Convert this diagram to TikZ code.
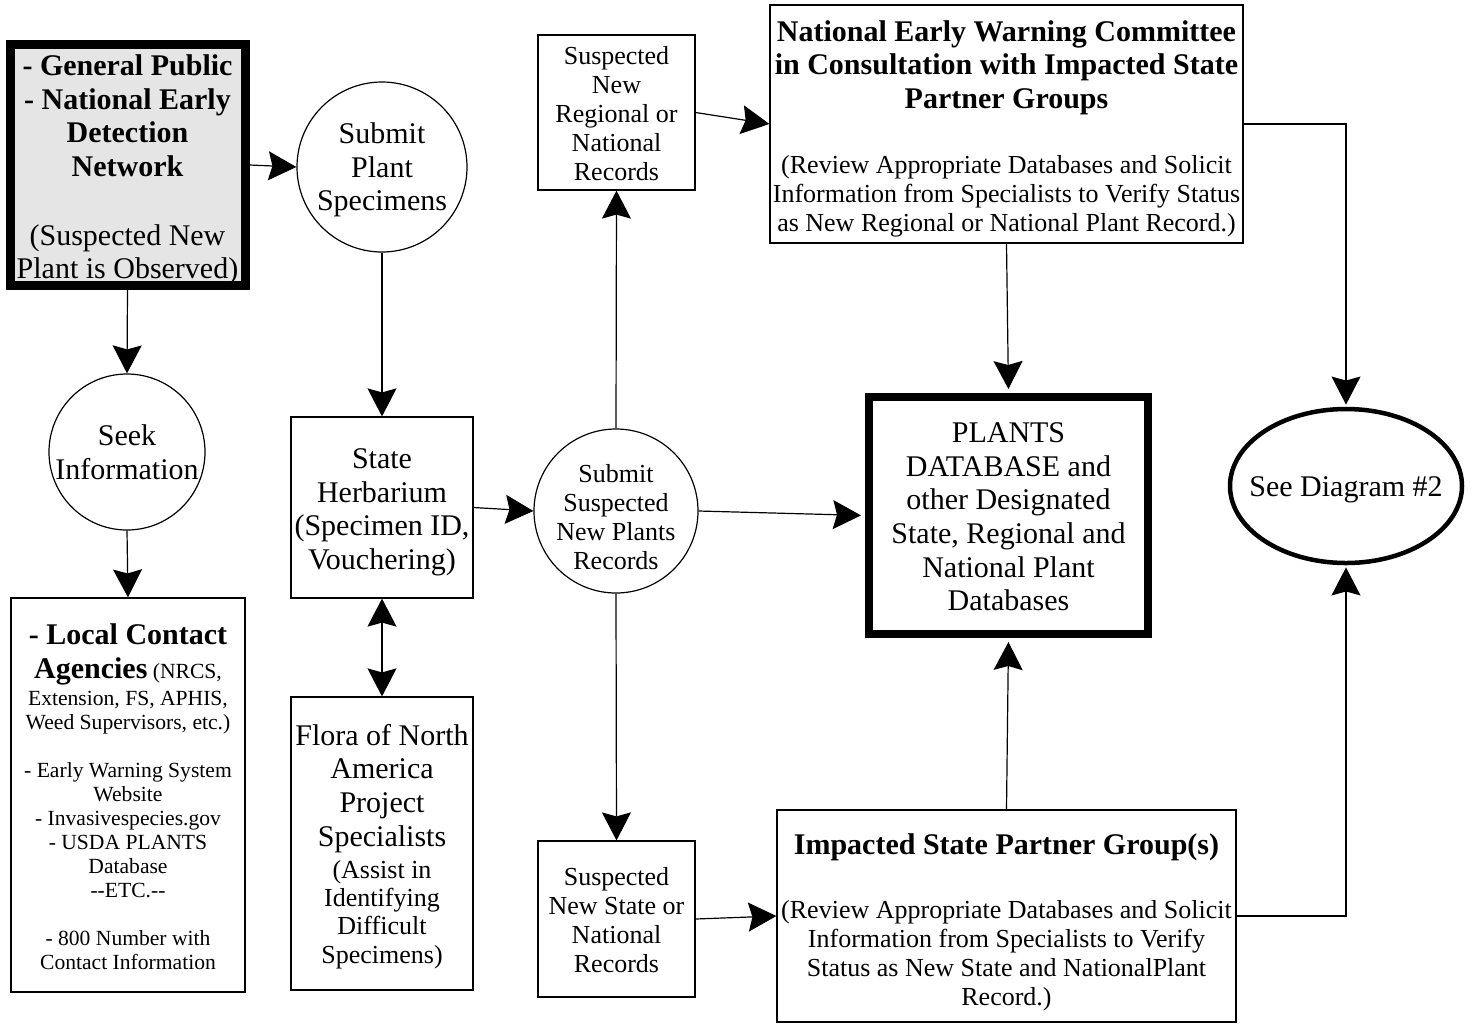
\documentclass[tikz,border=0pt]{standalone}
\usepackage{fontspec}
\setmainfont{Liberation Serif}
\usetikzlibrary{arrows.meta,shapes.geometric}
\newcommand\fsz[2]{\fontsize{#1}{#2}\selectfont}
% raises the top of a text block, moves its lines down by half the amount
\newcommand\topgap[1]{\raisebox{#1}{\vphantom{Ab}}}
\tikzset{
  >={Stealth[length=14pt,width=14.5pt,inset=2pt]},
  flowbox/.style={draw, line width=0.6pt, inner sep=0pt, align=center, font=\fsz{15}{16.8}},
  ring/.style={draw, circle, line width=0.6pt, inner sep=0pt},
  ringtext/.style={align=center, inner sep=0pt, font=\fsz{15}{16.8}},
  arr/.style={line width=0.6pt, ->},
  dblarr/.style={line width=0.6pt, <->},
}
\begin{document}
\begin{tikzpicture}[x=0.5pt,y=-0.5pt]
  \useasboundingbox (0,0) rectangle (1473,1024);
  % left column
  \node[flowbox, line width=4.5pt, fill=gray!20, minimum width=117.5pt, minimum height=118pt] (public) at (127.5,165)
    {\textbf{\topgap{5pt}- General Public}\\\textbf{- National Early}\\\textbf{Detection}\\\textbf{Network}\\[17.7pt]
     (Suspected New\\Plant is Observed)};
  \node[ring, minimum size=78pt] (seek) at (127,452) {};
  \node[ringtext] (seektxt) at (seek) {Seek\\Information};
  \node[flowbox, minimum width=117pt, minimum height=197pt, font=\fsz{10.8}{12}] (local) at (128,795)
    {{\fsz{15}{17}\bfseries\topgap{2pt}- Local Contact}\\[5pt]
     {\fsz{15}{17}\bfseries Agencies} (NRCS,\\[1.5pt]
     Extension, FS, APHIS,\\Weed Supervisors, etc.)\\[12pt]
     - Early Warning System\\Website\\- Invasivespecies.gov\\- USDA PLANTS\\Database\\-{}-ETC.-{}-\\[12pt]
     - 800 Number with\\Contact Information};
  % specimen column
  \node[ring, minimum size=85pt] (subplant) at (382,167) {};
  \node[ringtext] (subplanttxt) at (subplant) {\topgap{3pt}Submit\\Plant\\Specimens};
  \node[flowbox, minimum width=91pt, minimum height=90.5pt] (herb) at (382,507.5)
    {\topgap{4.5pt}State\\Herbarium\\(Specimen ID,\\Vouchering)};
  \node[flowbox, minimum width=91pt, minimum height=146.5pt] (flora) at (382,843.5)
    {\topgap{3.5pt}Flora of North\\America\\Project\\Specialists\\[-0.8pt]
     {\fsz{13}{14.2}(Assist in}\\[-2.6pt]{\fsz{13}{14.2}Identifying}\\[-2.6pt]
     {\fsz{13}{14.2}Difficult}\\[-2.3pt]{\fsz{13}{14.2}Specimens)}};
  % records column
  \node[ring, minimum size=82pt] (subrec) at (616,511) {};
  \node[ringtext, font=\fsz{13}{14.5}] (subrectxt) at (subrec) {\topgap{6pt}Submit\\Suspected\\New Plants\\Records};
  \node[flowbox, minimum width=78.5pt, minimum height=77.5pt, font=\fsz{13}{14.5}] (regrec) at (616.5,112.5)
    {\topgap{1.5pt}Suspected\\New\\Regional or\\National\\Records};
  \node[flowbox, minimum width=78.5pt, minimum height=78pt, font=\fsz{13}{14.5}] (staterec) at (616.5,919)
    {\topgap{1pt}Suspected\\New State or\\National\\Records};
  % review and databases
  \node[flowbox, minimum width=236.5pt, minimum height=119pt, font=\fsz{13}{14.5}] (newc) at (1006.5,124)
    {{\fsz{15}{16.8}\bfseries\topgap{4.5pt}National Early Warning Committee}\\[2.2pt]
     {\fsz{15}{16.8}\bfseries in Consultation with Impacted State}\\[2.2pt]
     {\fsz{15}{16.8}\bfseries Partner Groups}\\[18pt]
     (Review Appropriate Databases and Solicit\\Information from Specialists to Verify Status\\as New Regional or National Plant Record.)};
  \node[flowbox, line width=4pt, minimum width=139.5pt, minimum height=118.5pt] (plants) at (1008.5,515.5)
    {\topgap{1pt}PLANTS\\DATABASE and\\other Designated\\State, Regional and\\National Plant\\Databases};
  \node[flowbox, minimum width=229.5pt, minimum height=106pt, font=\fsz{13}{14.5}] (ispg) at (1006.5,916)
    {{\fsz{15}{16.8}\bfseries\topgap{6pt}Impacted State Partner Group(s)}\\[17.5pt]
     (Review Appropriate Databases and Solicit\\Information from Specialists to Verify\\Status as New State and NationalPlant\\Record.)};
  \node[draw, ellipse, line width=2.25pt, minimum width=116pt, minimum height=77pt, inner sep=0pt] (diag2) at (1346,486) {};
  \node[ringtext] (diag2txt) at (diag2) {\topgap{3pt}See Diagram \#2};
  % connectors
  \draw[arr] (public.east) -- (subplant.west);
  \draw[arr] (public.south) -- (seek.north);
  \draw[arr] (seek.south) -- (local.north);
  \draw[arr] (subplant.south) -- (herb.north);
  \draw[dblarr] (herb.south) -- (flora.north);
  \draw[arr] (herb.east) -- (subrec.west);
  \draw[arr] (subrec.north) -- (regrec.south);
  \draw[arr] (subrec.south) -- (staterec.north);
  \draw[arr, shorten >=2pt] (subrec.east) -- (plants.west);
  \draw[arr] (regrec.east) -- (newc.west);
  \draw[arr, shorten >=2pt] (newc.south) -- (plants.north);
  \draw[arr, shorten >=1.1pt] (newc.east) -| (diag2.north);
  \draw[arr] (staterec.east) -- (ispg.west);
  \draw[arr, shorten >=2pt] (ispg.north) -- (plants.south);
  \draw[arr, shorten >=1.1pt] (ispg.east) -| (diag2.south);
\end{tikzpicture}
\end{document}
